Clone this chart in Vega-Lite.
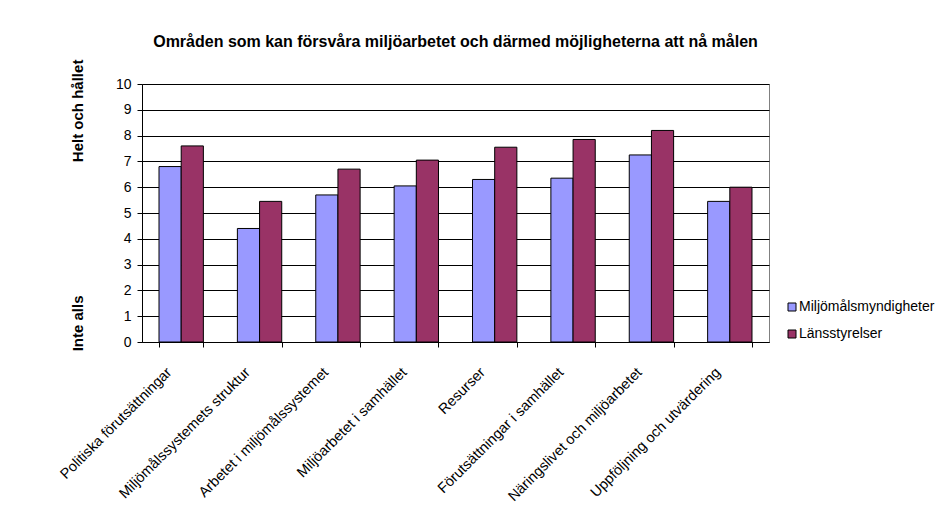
{
  "$schema": "https://vega.github.io/schema/vega-lite/v6.json",
  "width": 627,
  "height": 258,
  "autosize": {"type": "none"},
  "padding": {"left": 142, "top": 84, "right": 182, "bottom": 173},
  "background": "white",
  "title": {
    "text": "Områden som kan försvåra miljöarbetet och därmed möjligheterna att nå målen",
    "font": "Liberation Sans",
    "fontSize": 16,
    "fontWeight": "bold",
    "color": "black",
    "anchor": "middle",
    "frame": "group",
    "offset": 9
  },
  "data": {
    "values": [
      {"omrade": "Politiska förutsättningar", "grupp": "Miljömålsmyndigheter", "varde": 6.8},
      {"omrade": "Politiska förutsättningar", "grupp": "Länsstyrelser", "varde": 7.6},
      {"omrade": "Miljömålssystemets struktur", "grupp": "Miljömålsmyndigheter", "varde": 4.4},
      {"omrade": "Miljömålssystemets struktur", "grupp": "Länsstyrelser", "varde": 5.45},
      {"omrade": "Arbetet i miljömålssystemet", "grupp": "Miljömålsmyndigheter", "varde": 5.7},
      {"omrade": "Arbetet i miljömålssystemet", "grupp": "Länsstyrelser", "varde": 6.7},
      {"omrade": "Miljöarbetet i samhället", "grupp": "Miljömålsmyndigheter", "varde": 6.05},
      {"omrade": "Miljöarbetet i samhället", "grupp": "Länsstyrelser", "varde": 7.05},
      {"omrade": "Resurser", "grupp": "Miljömålsmyndigheter", "varde": 6.3},
      {"omrade": "Resurser", "grupp": "Länsstyrelser", "varde": 7.55},
      {"omrade": "Förutsättningar i samhället", "grupp": "Miljömålsmyndigheter", "varde": 6.35},
      {"omrade": "Förutsättningar i samhället", "grupp": "Länsstyrelser", "varde": 7.85},
      {"omrade": "Näringslivet och miljöarbetet", "grupp": "Miljömålsmyndigheter", "varde": 7.25},
      {"omrade": "Näringslivet och miljöarbetet", "grupp": "Länsstyrelser", "varde": 8.2},
      {"omrade": "Uppföljning och utvärdering", "grupp": "Miljömålsmyndigheter", "varde": 5.45},
      {"omrade": "Uppföljning och utvärdering", "grupp": "Länsstyrelser", "varde": 6.0}
    ]
  },
  "mark": {"type": "bar", "stroke": "black", "strokeWidth": 1},
  "encoding": {
    "x": {
      "field": "omrade",
      "type": "nominal",
      "sort": null,
      "scale": {"paddingInner": 0.434, "paddingOuter": 0.217},
      "axis": {
        "title": null,
        "labelAngle": -45,
        "labelFontSize": 14.5,
        "labelColor": "black",
        "labelPadding": 18,
        "labelOffset": -17,
        "labelLimit": 0,
        "tickBand": "extent",
        "tickColor": "black",
        "tickSize": 5,
        "domainColor": "black",
        "grid": false
      }
    },
    "xOffset": {
      "field": "grupp",
      "type": "nominal",
      "sort": ["Miljömålsmyndigheter", "Länsstyrelser"],
      "scale": {"paddingInner": 0, "paddingOuter": 0}
    },
    "y": {
      "field": "varde",
      "type": "quantitative",
      "scale": {"domain": [0, 10], "nice": false},
      "axis": {
        "values": [0, 1, 2, 3, 4, 5, 6, 7, 8, 9, 10],
        "title": "Inte alls\u00a0\u00a0\u00a0\u00a0\u00a0\u00a0\u00a0\u00a0\u00a0\u00a0\u00a0\u00a0\u00a0\u00a0\u00a0\u00a0\u00a0\u00a0\u00a0\u00a0\u00a0\u00a0\u00a0\u00a0\u00a0\u00a0\u00a0\u00a0\u00a0\u00a0\u00a0\u00a0Helt och hållet",
        "titleFontSize": 15,
        "titleFontWeight": "bold",
        "titleColor": "black",
        "titlePadding": 30,
        "titleY": 121,
        "labelFontSize": 14,
        "labelColor": "black",
        "labelPadding": 6,
        "tickColor": "black",
        "tickSize": 5,
        "domainColor": "black",
        "gridColor": "black",
        "gridOpacity": 1
      }
    },
    "color": {
      "field": "grupp",
      "type": "nominal",
      "sort": ["Miljömålsmyndigheter", "Länsstyrelser"],
      "scale": {"domain": ["Miljömålsmyndigheter", "Länsstyrelser"], "range": ["#9999FF", "#993366"]},
      "legend": {
        "title": null,
        "orient": "none",
        "legendX": 643,
        "legendY": 216,
        "symbolType": "square",
        "symbolSize": 64,
        "symbolStrokeColor": "black",
        "symbolStrokeWidth": 1,
        "labelFontSize": 14,
        "labelColor": "black",
        "rowPadding": 13,
        "labelOffset": 0
      }
    }
  },
  "config": {
    "font": "Liberation Sans",
    "view": {"stroke": "#808080", "strokeWidth": 1}
  }
}
